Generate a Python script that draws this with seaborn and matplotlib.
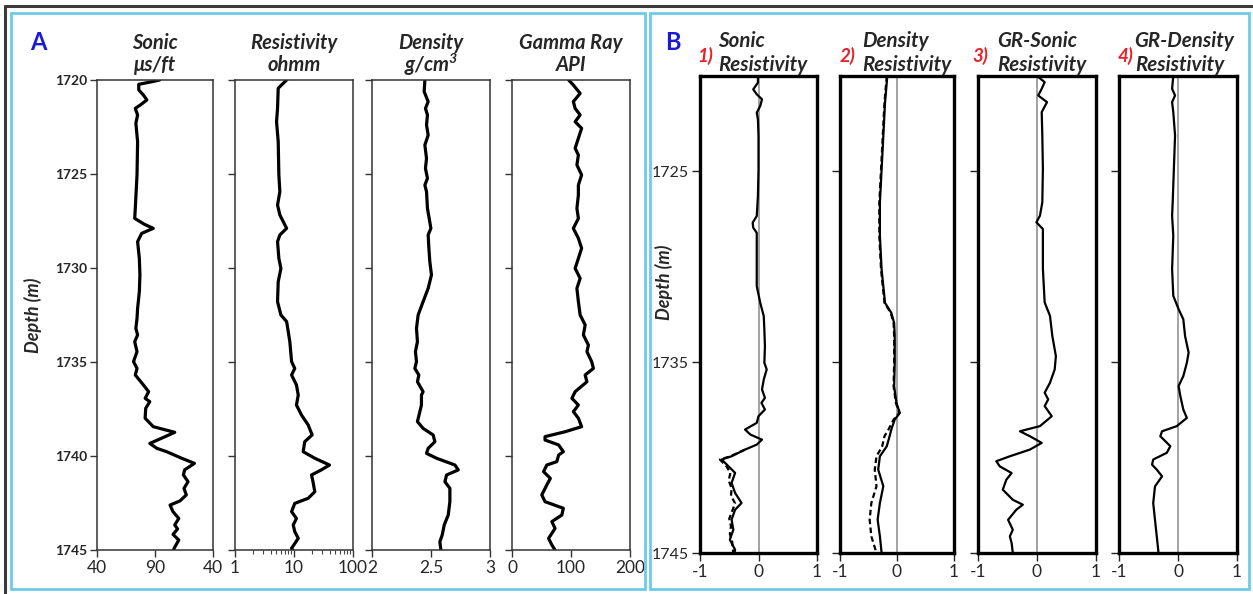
import matplotlib
matplotlib.use("Agg")
import matplotlib.pyplot as plt
import seaborn as sns
from matplotlib.patches import Rectangle
from matplotlib.lines import Line2D
from matplotlib.ticker import FixedLocator, LogLocator, NullFormatter

# ---------------------------------------------------------------- well logs (A)
sonic_depth = [1720.00, 1720.12, 1720.23, 1720.53, 1720.80, 1721.06, 1721.30, 1721.51, 1721.86,
               1722.30, 1723.28, 1725.05, 1726.83, 1727.36, 1727.68, 1727.89, 1728.16, 1728.60,
               1729.49, 1730.37, 1731.26, 1732.15, 1732.68, 1733.21, 1733.56, 1733.92, 1734.45,
               1734.98, 1735.34, 1735.69, 1736.22, 1736.58, 1736.93, 1737.11, 1737.46, 1737.99,
               1738.44, 1738.74, 1739.06, 1739.33, 1739.59, 1739.77, 1740.12, 1740.39, 1740.74,
               1741.01, 1741.37, 1741.72, 1742.07, 1742.39, 1742.61, 1742.96, 1743.32, 1743.67,
               1743.88, 1744.17, 1744.47, 1744.91, 1745.00]
sonic_us_ft = [94, 85, 76, 76, 80, 83, 78, 73, 75,
               73.5, 75, 74.5, 73, 72.5, 81, 88.5, 78.5, 75,
               76.5, 77, 76.5, 75, 74.5, 73.5, 75, 72.5, 74.5,
               71.5, 74.5, 73, 80, 84.5, 81.5, 85.5, 82, 81.5,
               88.5, 107, 95.5, 85.5, 91.5, 100, 113, 124, 115.5,
               114.5, 118.5, 115, 117, 111.5, 103, 105.5, 110.5, 107,
               109.5, 105.5, 110.5, 106.5, 106]

res_depth = [1720.00, 1720.23, 1720.44, 1721.51, 1722.22, 1723.28, 1725.05, 1725.94, 1726.65,
             1727.18, 1727.89, 1728.24, 1728.60, 1729.49, 1730.02, 1730.73, 1731.79, 1732.50,
             1732.85, 1733.92, 1734.98, 1735.34, 1735.69, 1736.22, 1736.76, 1737.29, 1737.82,
             1738.35, 1738.88, 1739.24, 1739.77, 1740.12, 1740.48, 1740.74, 1741.01, 1741.37,
             1741.90, 1742.25, 1742.52, 1742.96, 1743.32, 1743.67, 1744.02, 1744.38, 1744.91,
             1745.00]
res_ohmm = [7.5, 6.3, 5.4, 5.26, 5.06, 5.4, 5.54, 5.76, 5.26,
            5.76, 7.5, 5.76, 5.26, 5.54, 6.0, 5.4, 5.26, 6.0,
            7.5, 8.5, 9.1, 10.3, 9.1, 11.0, 11.8, 11.0, 13.4,
            17.4, 20.3, 15.2, 14.3, 22.5, 40, 29, 19.8, 21,
            22.5, 17.4, 10.3, 9.1, 11.0, 9.7, 10.3, 11.8, 9.1,
            9.5]

den_depth = [1720.00, 1720.62, 1721.15, 1721.51, 1721.86, 1722.39, 1722.93, 1723.46, 1724.17,
             1724.70, 1725.23, 1725.59, 1725.94, 1726.83, 1727.89, 1728.24, 1728.95, 1729.66,
             1730.37, 1731.08, 1731.79, 1732.50, 1733.21, 1733.92, 1734.45, 1734.98, 1735.34,
             1735.69, 1736.05, 1736.58, 1736.76, 1737.29, 1738.17, 1738.53, 1738.88, 1739.24,
             1739.59, 1739.86, 1740.12, 1740.48, 1740.74, 1741.01, 1741.37, 1741.72, 1742.43,
             1743.14, 1743.67, 1744.20, 1744.56, 1745.00]
den_gcc = [2.448, 2.442, 2.476, 2.453, 2.470, 2.462, 2.476, 2.448, 2.462,
           2.453, 2.470, 2.448, 2.462, 2.470, 2.499, 2.476, 2.482, 2.490,
           2.504, 2.476, 2.433, 2.391, 2.377, 2.385, 2.368, 2.377, 2.363,
           2.397, 2.385, 2.433, 2.419, 2.419, 2.385, 2.433, 2.518, 2.533,
           2.476, 2.462, 2.547, 2.703, 2.731, 2.632, 2.618, 2.660, 2.660,
           2.646, 2.612, 2.595, 2.575, 2.584]

gr_depth = [1720.00, 1720.27, 1720.71, 1721.15, 1721.51, 1721.86, 1722.22, 1722.57, 1723.10,
            1723.63, 1723.99, 1724.52, 1725.05, 1725.59, 1726.12, 1726.83, 1727.36, 1727.89,
            1728.42, 1728.95, 1729.49, 1730.02, 1730.55, 1731.08, 1731.79, 1732.50, 1733.03,
            1733.56, 1734.10, 1734.45, 1734.98, 1735.34, 1735.69, 1736.05, 1736.58, 1736.93,
            1737.29, 1737.64, 1737.99, 1738.44, 1738.71, 1738.97, 1739.15, 1739.41, 1739.77,
            1739.95, 1740.30, 1740.48, 1740.83, 1741.19, 1741.54, 1742.07, 1742.43, 1742.78,
            1743.14, 1743.49, 1743.85, 1744.38, 1744.73, 1745.00]
gr_api = [96, 104, 115.5, 104, 107, 115.5, 107, 118, 112.5,
          107, 112.5, 110, 118, 112.5, 112.5, 110, 112.5, 104,
          112.5, 118, 112.5, 107, 115.5, 110, 112.5, 115.5, 124,
          121, 129.5, 127, 135, 138, 124, 127, 107, 101.5,
          112.5, 104, 112.5, 118, 90, 56, 56, 79, 87,
          79, 76, 59, 53.5, 65, 59, 50.5, 56, 87,
          84.5, 67.5, 73, 62, 67.5, 73]

# ------------------------------------------------------- normalized tracks (B)
t1_depth = [1720.00, 1720.35, 1720.70, 1720.96, 1721.22, 1721.57, 1721.92, 1722.27, 1723.15,
            1724.90, 1726.29, 1727.34, 1727.69, 1727.95, 1728.22, 1729.27, 1731.01, 1731.89,
            1732.59, 1733.29, 1734.16, 1735.03, 1735.38, 1735.91, 1736.43, 1736.87, 1737.13,
            1737.48, 1737.83, 1738.18, 1738.53, 1738.79, 1739.06, 1739.32, 1739.58, 1739.93,
            1740.10, 1740.37, 1740.80, 1741.33, 1741.85, 1742.38, 1742.73, 1743.25, 1743.78,
            1744.30, 1744.83, 1745.00]
t1_resistivity = [-0.01, -0.01, -0.09, -0.03, 0.06, 0.03, -0.03, -0.01, 0.0,
                  0.0, -0.01, -0.03, -0.10, -0.09, -0.03, -0.03, -0.03, 0.03,
                  0.09, 0.10, 0.11, 0.10, 0.14, 0.09, 0.06, 0.11, 0.05,
                  0.11, 0.0, -0.03, -0.23, -0.14, 0.06, -0.03, -0.23, -0.46,
                  -0.63, -0.54, -0.40, -0.46, -0.40, -0.29, -0.40, -0.46, -0.43,
                  -0.49, -0.40, -0.41]
t1s_depth = [1739.58, 1739.93, 1740.10, 1740.45, 1740.80, 1741.20, 1741.60, 1742.00, 1742.40,
             1742.80, 1743.20, 1743.60, 1744.00, 1744.40, 1744.80, 1745.00]
t1_sonic = [-0.23, -0.48, -0.66, -0.55, -0.48, -0.51, -0.46, -0.47, -0.40,
            -0.45, -0.50, -0.47, -0.49, -0.45, -0.44, -0.43]

t2_depth = [1720.00, 1721.40, 1723.15, 1724.90, 1726.64, 1728.39, 1730.14, 1731.89, 1732.41,
            1732.94, 1733.64, 1735.03, 1736.26, 1737.13, 1737.66, 1738.01, 1738.53, 1738.88,
            1739.41, 1739.93, 1740.63, 1741.50, 1742.38, 1743.25, 1744.13, 1745.00]
t2_resistivity = [-0.17, -0.21, -0.24, -0.27, -0.30, -0.30, -0.27, -0.21, -0.10,
                  -0.05, -0.04, -0.04, -0.05, -0.01, 0.05, -0.04, -0.10, -0.13,
                  -0.18, -0.30, -0.33, -0.24, -0.30, -0.34, -0.30, -0.27]
t2_density = [-0.18, -0.22, -0.25, -0.28, -0.31, -0.31, -0.28, -0.22, -0.11,
              -0.06, -0.05, -0.05, -0.06, -0.02, 0.04, -0.06, -0.15, -0.22,
              -0.26, -0.36, -0.39, -0.36, -0.45, -0.48, -0.45, -0.36]

t3_depth = [1720.00, 1720.32, 1720.67, 1721.02, 1721.37, 1721.89, 1723.12, 1724.87, 1726.62,
            1727.32, 1727.67, 1728.02, 1728.37, 1730.12, 1731.87, 1732.57, 1733.63, 1734.68,
            1735.38, 1736.08, 1736.60, 1736.95, 1737.30, 1737.83, 1738.35, 1738.62, 1738.88,
            1739.23, 1739.58, 1739.93, 1740.19, 1740.46, 1740.81, 1741.16, 1741.68, 1742.21,
            1742.47, 1742.73, 1743.26, 1743.78, 1744.13, 1744.48, 1745.00]
t3_gr_sonic = [0.0, 0.13, 0.08, 0.02, 0.17, 0.08, 0.09, 0.10, 0.09,
               0.05, -0.01, 0.10, 0.10, 0.10, 0.13, 0.22, 0.26, 0.32,
               0.30, 0.22, 0.13, 0.19, 0.13, 0.25, 0.05, -0.29, -0.12,
               0.08, -0.12, -0.46, -0.69, -0.63, -0.43, -0.52, -0.58, -0.41,
               -0.24, -0.35, -0.49, -0.41, -0.46, -0.43, -0.41]

t4_depth = [1720.00, 1720.67, 1721.02, 1721.37, 1721.89, 1723.12, 1724.87, 1726.62, 1727.32,
            1728.37, 1730.12, 1731.52, 1732.22, 1732.75, 1733.63, 1734.50, 1735.03, 1735.73,
            1736.25, 1736.78, 1737.48, 1737.92, 1738.35, 1738.62, 1738.88, 1739.40, 1739.75,
            1740.10, 1740.37, 1740.63, 1740.98, 1741.51, 1742.38, 1743.26, 1744.13, 1745.00]
t4_gr_density = [-0.08, -0.10, -0.05, -0.10, -0.08, -0.05, -0.07, -0.09, -0.10,
                 -0.08, -0.10, -0.08, 0.01, 0.09, 0.12, 0.18, 0.15, 0.09,
                 0.01, 0.04, 0.09, 0.15, -0.02, -0.27, -0.30, -0.13, -0.19,
                 -0.42, -0.44, -0.36, -0.27, -0.39, -0.42, -0.39, -0.36, -0.33]

depth_ticks_a = [1720, 1725, 1730, 1735, 1740, 1745]
depth_ticks_b = [1725, 1735, 1745]
track_titles_a = [("Sonic", "\u03bcs/ft"), ("Resistivity", "ohmm"),
                  ("Density", "g/cm$^\\mathregular{3}$"), ("Gamma Ray", "API")]
track_titles_b = [("1)", "Sonic", "Resistivity"), ("2)", "Density", "Resistivity"),
                  ("3)", "GR-Sonic", "Resistivity"), ("4)", "GR-Density", "Resistivity")]

# ------------------------------------------------------------------- figure
sns.set_theme(style="white")
plt.rcParams["font.family"] = ["Lato", "DejaVu Sans"]
plt.rcParams["mathtext.fontset"] = "custom"
plt.rcParams["mathtext.rm"] = "Lato:bold:italic"
plt.rcParams["mathtext.it"] = "Lato:bold:italic"

W, H = 1253, 594
fig = plt.figure(figsize=(W / 100, H / 100), dpi=100)
fig.patch.set_facecolor("white")

LINE_KW = dict(sort=False, estimator=None, color="black",
               solid_joinstyle="round", solid_capstyle="round")


def fx(px):
    return px / W


def fy(py):
    return 1 - py / H


def box(left, top, right, bottom):
    return [fx(left), fy(bottom), fx(right) - fx(left), fy(top) - fy(bottom)]


# panel frames
fig.add_artist(Line2D([fx(5), fx(1253)], [fy(6), fy(6)], color="#3a3a3a", lw=2.2))
fig.add_artist(Line2D([fx(5), fx(5)], [fy(6), fy(594)], color="#3a3a3a", lw=2.2))
for l, r in [(11, 645), (650, 1249)]:
    fig.add_artist(Rectangle((fx(l), fy(589)), fx(r) - fx(l), fy(13) - fy(589),
                             fill=False, edgecolor="#6ccbe6", lw=2.0))

# ---------------------------------------------------------------- panel A
a_boxes = [(97, 80, 213, 550), (235, 80, 353, 550), (372, 80, 490, 550), (512, 80, 630, 550)]
a_data = [(sonic_us_ft, sonic_depth), (res_ohmm, res_depth),
          (den_gcc, den_depth), (gr_api, gr_depth)]
a_limits = [(40, 140), (1, 100), (2, 3), (0, 200)]
a_ticks = [([40, 90, 140], ["40", "90", "40"]), ([1, 10, 100], ["1", "10", "100"]),
           ([2, 2.5, 3], ["2", "2.5", "3"]), ([0, 100, 200], ["0", "100", "200"])]

for i, (bx, (vals, dep), lim, (tk, tl)) in enumerate(zip(a_boxes, a_data, a_limits, a_ticks)):
    ax = fig.add_axes(box(*bx))
    if i == 1:
        ax.set_xscale("log")
    sns.lineplot(x=vals, y=dep, lw=2.3, ax=ax, **LINE_KW)
    ax.set_xlim(*lim)
    ax.set_ylim(1745, 1720)
    ax.set_xticks(tk)
    ax.set_xticklabels(tl, fontsize=12.5)
    if i == 1:
        ax.xaxis.set_minor_locator(LogLocator(base=10, subs=range(2, 10)))
        ax.xaxis.set_minor_formatter(NullFormatter())
        ax.tick_params(axis="x", which="minor", bottom=True, length=3, width=0.8,
                       color="#444444")
    ax.yaxis.set_major_locator(FixedLocator(depth_ticks_a))
    if i == 0:
        ax.set_yticklabels([str(d) for d in depth_ticks_a], fontsize=10,
                           fontweight="bold")
    else:
        ax.set_yticklabels([])
    ax.tick_params(axis="both", which="major", left=True, bottom=True, length=5,
                   width=1, color="#333333", pad=2)
    ax.set_xlabel("")
    ax.set_ylabel("")
    for s in ax.spines.values():
        s.set_color("#333333")
        s.set_linewidth(1.1)
    cx = (bx[0] + bx[2]) / 2
    fig.text(fx(cx), fy(43), track_titles_a[i][0], ha="center", va="center",
             fontsize=14.5, fontweight="bold", style="italic")
    fig.text(fx(cx), fy(65), track_titles_a[i][1], ha="center", va="center",
             fontsize=14.5, fontweight="bold", style="italic")

fig.text(fx(38), fy(43), "A", ha="center", va="center", fontsize=17,
         fontweight="bold", color="#1a1ad6")
fig.text(fx(33), fy(315), "Depth (m)", ha="center", va="center", rotation=90,
         fontsize=13, fontweight="bold", style="italic")

# ---------------------------------------------------------------- panel B
b_boxes = [(700, 76, 817, 553), (840, 76, 954, 553), (978, 76, 1096, 553), (1119, 76, 1237, 553)]
b_solid = [(t1_resistivity, t1_depth), (t2_resistivity, t2_depth),
           (t3_gr_sonic, t3_depth), (t4_gr_density, t4_depth)]
b_dashed = {0: (t1_sonic, t1s_depth), 1: (t2_density, t2_depth)}
title_x = [(697, 718, 718), (840, 862, 862), (972, 997, 997), (1118, 1134, 1135)]

for i, bx in enumerate(b_boxes):
    ax = fig.add_axes(box(*bx))
    ax.axvline(0, color="#8a8a8a", lw=1.1, zorder=1)
    vals, dep = b_solid[i]
    sns.lineplot(x=vals, y=dep, lw=1.6, ax=ax, **LINE_KW)
    if i in b_dashed:
        dv, dd = b_dashed[i]
        sns.lineplot(x=dv, y=dd, sort=False, estimator=None, color="black",
                     lw=1.6, ax=ax, linestyle=(0, (2.5, 1.5)))
    ax.set_xlim(-1, 1)
    ax.set_ylim(1745, 1720)
    ax.set_xticks([-1, 0, 1])
    ax.set_xticklabels(["-1", "0", "1"], fontsize=12.5)
    ax.yaxis.set_major_locator(FixedLocator(depth_ticks_b))
    if i == 0:
        ax.set_yticklabels([str(d) for d in depth_ticks_b], fontsize=11.5)
    else:
        ax.set_yticklabels([])
    ax.tick_params(axis="both", which="major", left=True, bottom=True, length=6,
                   width=1, color="#222222", pad=2)
    ax.set_xlabel("")
    ax.set_ylabel("")
    for s in ax.spines.values():
        s.set_color("black")
        s.set_linewidth(2.4)
    nx, t1x, t2x = title_x[i]
    num, top, bottom = track_titles_b[i]
    fig.text(fx(nx), fy(56), num, ha="left", va="center", fontsize=13.5,
             fontweight="bold", style="italic", color="#e8202a")
    fig.text(fx(t1x), fy(41), top, ha="left", va="center", fontsize=14.8,
             fontweight="bold", style="italic")
    fig.text(fx(t2x), fy(65), bottom, ha="left", va="center", fontsize=14.8,
             fontweight="bold", style="italic")

fig.text(fx(673), fy(42), "B", ha="center", va="center", fontsize=17,
         fontweight="bold", color="#1a1ad6")
fig.text(fx(664), fy(282), "Depth (m)", ha="center", va="center", rotation=90,
         fontsize=13, fontweight="bold", style="italic")

fig.savefig("out.png", dpi=100, facecolor="white")
